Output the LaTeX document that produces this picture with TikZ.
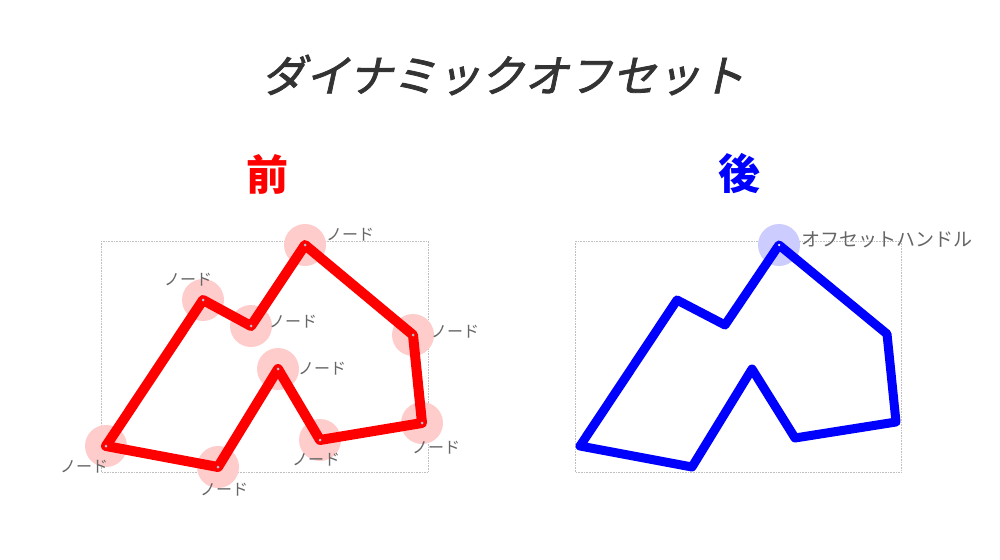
\documentclass[tikz,border=0pt]{standalone}
\usepackage{fontspec}
\setmainfont{Noto Sans CJK JP}
\newfontfamily\titlefont[FakeSlant=0.22,FakeBold=1.8]{Noto Sans CJK JP}
\begin{document}
\begin{tikzpicture}[x=1pt,y=-1pt,
  halo/.style={circle,fill=red!20,draw=none,minimum size=42pt,inner sep=0pt},
  bluehalo/.style={circle,fill=blue!20,draw=none,minimum size=42pt,inner sep=0pt},
  vdot/.style={circle,fill=cyan!30!gray!60,draw=none,minimum size=3pt,inner sep=0pt},
  lbl/.style={font=\fontsize{16}{16}\selectfont,text=black!60,inner sep=0pt},
  frame/.style={draw=black!25,densely dotted,line width=0.6pt},
  polyline/.style={line width=10pt,line join=round,line cap=round}]
\useasboundingbox (0,0) rectangle (1000,559);
\fill[white] (0,0) rectangle (1000,559);
% title
\node[font=\titlefont\fontsize{44}{44}\selectfont,text=black!80] (title) at (503,75) {ダイナミックオフセット};
\node[font=\bfseries\fontsize{42}{42}\selectfont,text=red] (before) at (267,174) {前};
\node[font=\bfseries\fontsize{42}{42}\selectfont,text=blue] (after) at (739,174) {後};
% frames
\draw[frame] (101,241) rectangle (428,472);
\draw[frame] (575,241) rectangle (901,472);
% left vertices
\foreach \n/\x/\y in {A/106/446,B/203/300,C/251/326,D/305/245,E/413/335,F/422/423,G/320/440,H/278/369,I/218/467}{
  \node[halo] (h\n) at (\x,\y) {};
}
\draw[polyline,red] (hA.center) -- (hB.center) -- (hC.center) -- (hD.center) -- (hE.center) -- (hF.center) -- (hG.center) -- (hH.center) -- (hI.center) -- cycle;
\foreach \n in {A,B,C,D,E,F,G,H,I}{
  \node[vdot] (d\n) at (h\n) {};
}
\node[lbl] (lA) at (84,467) {ノード};
\node[lbl] (lB) at (188,280) {ノード};
\node[lbl] (lC) at (293,322) {ノード};
\node[lbl] (lD) at (350,235) {ノード};
\node[lbl] (lE) at (455,332) {ノード};
\node[lbl] (lF) at (436,448) {ノード};
\node[lbl] (lG) at (316,460) {ノード};
\node[lbl] (lH) at (322,369) {ノード};
\node[lbl] (lI) at (224,490) {ノード};
% right
\node[bluehalo] (handle) at (779,245) {};
\coordinate (rA) at (580,446);
\coordinate (rB) at (677,300);
\coordinate (rC) at (725,325);
\coordinate (rE) at (887,334);
\coordinate (rF) at (896,422);
\coordinate (rG) at (795,438);
\coordinate (rH) at (752,369);
\coordinate (rI) at (692,467);
\draw[polyline,blue,line width=9pt] (rA) -- (rB) -- (rC) -- (handle.center) -- (rE) -- (rF) -- (rG) -- (rH) -- (rI) -- cycle;
\node[circle,fill=white,minimum size=2.5pt,inner sep=0pt] (hdot) at (handle) {};
\node[lbl,font=\fontsize{19}{19}\selectfont,anchor=west] (lhandle) at (801,240) {オフセットハンドル};
\end{tikzpicture}
\end{document}
